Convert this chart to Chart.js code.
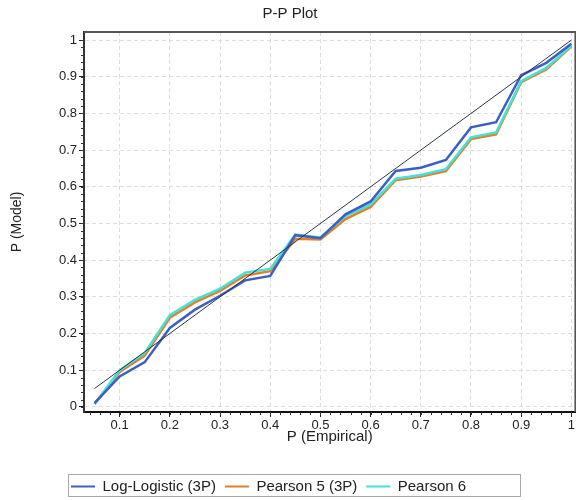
<!DOCTYPE html>
<html>
<head>
<meta charset="utf-8">
<script src="https://cdn.jsdelivr.net/npm/chart.js@4.4.0/dist/chart.umd.min.js"></script>
<style>
  body { margin: 0; background: #fff; }
  #wrap { width: 576px; height: 500px; }
</style>
</head>
<body>
<div id="wrap"><canvas id="ppChart"></canvas></div>
<script>
// empirical probabilities (x) and model probabilities for each fit
const empirical = [0.05, 0.1, 0.15, 0.2, 0.25, 0.3, 0.35, 0.4, 0.45, 0.5,
                   0.55, 0.6, 0.65, 0.7, 0.75, 0.8, 0.85, 0.9, 0.95, 1.0];
const logLogistic = [0.01, 0.083, 0.122, 0.215, 0.265, 0.303, 0.345, 0.357, 0.468, 0.46,
                     0.525, 0.56, 0.643, 0.652, 0.673, 0.762, 0.776, 0.904, 0.938, 0.99];
const pearson5 = [0.008, 0.095, 0.14, 0.243, 0.285, 0.316, 0.358, 0.37, 0.458, 0.456,
                  0.512, 0.545, 0.618, 0.628, 0.643, 0.73, 0.743, 0.885, 0.92, 0.983];
const pearson6 = [0.008, 0.1, 0.147, 0.25, 0.292, 0.322, 0.366, 0.376, 0.47, 0.462,
                  0.52, 0.552, 0.622, 0.632, 0.648, 0.735, 0.748, 0.888, 0.924, 0.985];
const refX = [0.05, 1.0];
const refY = [0.05, 1.0];

const xTicks = [0.1, 0.2, 0.3, 0.4, 0.5, 0.6, 0.7, 0.8, 0.9, 1];
const yTicks = [0, 0.1, 0.2, 0.3, 0.4, 0.5, 0.6, 0.7, 0.8, 0.9, 1];

const pts = (xs, ys) => xs.map((x, i) => ({ x: x, y: ys[i] }));
const font = 'Liberation Sans, Arial, sans-serif';

// frame, minor ticks and legend box
const extras = {
    id: 'extras',
    afterLayout(chart) {
        // legend starts under the plot, not at the canvas edge
        chart.legend.left = 62;
        chart.legend.top += 4;
        chart.legend.bottom += 4;
    },
    afterDraw(chart) {
        const c = chart.ctx;
        const a = chart.chartArea;
        const xs = chart.scales.x, ys = chart.scales.y;
        c.save();
        c.strokeStyle = '#555';
        c.lineWidth = 2;
        c.beginPath();
        c.moveTo(a.left, a.top);
        c.lineTo(a.right, a.top);
        c.lineTo(a.right, a.bottom);
        c.stroke();
        c.strokeStyle = '#333';
        c.lineWidth = 1;
        c.beginPath();
        for (let v = 0; v <= 1.0001; v += 0.02) {
            const py = Math.round(ys.getPixelForValue(v)) + 0.5;
            if (py >= a.top && py <= a.bottom) {
                c.moveTo(a.left - 3, py);
                c.lineTo(a.left, py);
            }
            const px = Math.round(xs.getPixelForValue(v)) + 0.5;
            if (px >= a.left && px <= a.right) {
                c.moveTo(px, a.bottom);
                c.lineTo(px, a.bottom + 3);
            }
        }
        c.stroke();
        c.strokeStyle = '#aaa';
        c.lineWidth = 1;
        c.strokeRect(68.5, 474.5, 452, 22);
        c.restore();
    }
};

const ctx = document.getElementById('ppChart').getContext('2d');
new Chart(ctx, {
    type: 'line',
    data: {
        datasets: [
            {
                label: 'Log-Logistic (3P)',
                data: pts(empirical, logLogistic),
                borderColor: '#3d5fc4',
                backgroundColor: '#2f4a8a',
                borderWidth: 2.5,
                pointRadius: 0,
                order: 2
            },
            {
                label: 'Pearson 5 (3P)',
                data: pts(empirical, pearson5),
                borderColor: '#e0802a',
                backgroundColor: '#e0802a',
                borderWidth: 2.5,
                pointRadius: 0,
                order: 4
            },
            {
                label: 'Pearson 6',
                data: pts(empirical, pearson6),
                borderColor: '#45e0d6',
                backgroundColor: '#45e0d6',
                borderWidth: 2.5,
                pointRadius: 0,
                order: 3
            },
            {
                label: 'reference',
                data: pts(refX, refY),
                borderColor: '#2a3550',
                borderWidth: 1,
                pointRadius: 0,
                order: 1
            }
        ]
    },
    options: {
        responsive: true,
        maintainAspectRatio: false,
        animation: false,
        layout: { padding: { top: 1, right: -4, bottom: 0, left: 0 } },
        plugins: {
            title: {
                display: true,
                text: 'P-P Plot',
                color: '#222',
                font: { family: font, size: 15, weight: 'normal' },
                padding: { top: 4, bottom: 9 }
            },
            legend: {
                position: 'bottom',
                align: 'start',
                labels: {
                    filter: item => item.text !== 'reference',
                    sort: (a, b) => a.datasetIndex - b.datasetIndex,
                    usePointStyle: true,
                    pointStyle: 'line',
                    pointStyleWidth: 24,
                    color: '#222',
                    font: { family: font, size: 15 },
                    padding: 9,
                    generateLabels(chart) {
                        const items = Chart.defaults.plugins.legend.labels.generateLabels(chart);
                        items.forEach(it => { it.lineWidth = 2; });
                        return items;
                    }
                }
            },
            tooltip: { enabled: false }
        },
        scales: {
            x: {
                type: 'linear',
                min: 0.029,
                max: 1.008,
                afterBuildTicks: s => { s.ticks = xTicks.map(v => ({ value: v })); },
                afterFit: s => { s.height = 54; },
                ticks: {
                    color: '#222',
                    font: { family: font, size: 13 },
                    padding: 1,
                    maxRotation: 0,
                    callback: v => String(v)
                },
                grid: { color: '#dedede', tickColor: '#222', tickLength: 5 },
                border: { display: true, color: '#111', width: 2, dash: [4, 3] },
                title: {
                    display: true,
                    text: 'P (Empirical)',
                    color: '#222',
                    font: { family: font, size: 15 },
                    padding: { top: 0, bottom: 20 }
                }
            },
            y: {
                type: 'linear',
                min: -0.014,
                max: 1.022,
                afterBuildTicks: s => { s.ticks = yTicks.map(v => ({ value: v })); },
                afterFit: s => { s.width = 84; },
                ticks: {
                    color: '#222',
                    font: { family: font, size: 13 },
                    padding: 2,
                    callback: v => String(v)
                },
                grid: { color: '#dedede', tickColor: '#222', tickLength: 5 },
                border: { display: true, color: '#333', width: 2, dash: [4, 3] },
                title: {
                    display: true,
                    text: 'P (Model)',
                    color: '#222',
                    font: { family: font, size: 14 },
                    padding: { top: 9, bottom: 0 }
                }
            }
        }
    },
    plugins: [extras]
});
</script>
</body>
</html>
